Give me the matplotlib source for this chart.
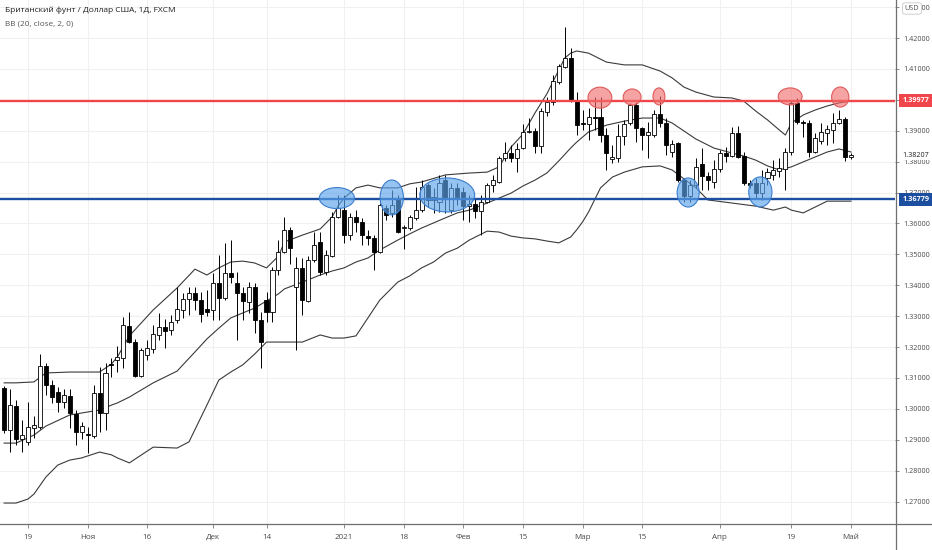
import pandas as pd
import matplotlib
matplotlib.use('Agg')
import matplotlib.pyplot as plt
from matplotlib.patches import Ellipse
from matplotlib.lines import Line2D

plt.rcParams['font.family'] = ['Open Sans', 'DejaVu Sans']

# daily bars, FXCM had no bar on Christmas and New Year
dates = pd.bdate_range('2020-10-13', '2021-05-03')
dates = dates[~dates.isin(pd.to_datetime(['2020-12-25', '2021-01-01']))]

opens = [
    1.3067, 1.2931, 1.3009, 1.2902, 1.2892, 1.2938, 1.2941, 1.3139, 1.3077, 1.3054,
    1.3022, 1.3042, 1.2983, 1.2925, 1.2920, 1.2912, 1.3051, 1.2986, 1.3145, 1.3158,
    1.3165, 1.3268, 1.3216, 1.3106, 1.3174, 1.3194, 1.3239, 1.3265, 1.3255, 1.3287,
    1.3320, 1.3355, 1.3375, 1.3352, 1.3323, 1.3320, 1.3407, 1.3359, 1.3440, 1.3407,
    1.3375, 1.3346, 1.3394, 1.3287, 1.3352, 1.3313, 1.3449, 1.3508, 1.3579, 1.3394,
    1.3456, 1.3349, 1.3482, 1.3540, 1.3443, 1.3495, 1.3621, 1.3644, 1.3563, 1.3621,
    1.3605, 1.3560, 1.3553, 1.3508, 1.3650, 1.3634, 1.3682, 1.3585, 1.3585, 1.3618,
    1.3643, 1.3724, 1.3676, 1.3670, 1.3740, 1.3643, 1.3715, 1.3702, 1.3657, 1.3663,
    1.3640, 1.3669, 1.3724, 1.3734, 1.3812, 1.3828, 1.3812, 1.3844, 1.3896, 1.3899,
    1.3851, 1.3961, 1.3993, 1.4058, 1.4106, 1.4135, 1.3999, 1.3925, 1.3922, 1.3944,
    1.3944, 1.3886, 1.3808, 1.3812, 1.3883, 1.3925, 1.3983, 1.3909, 1.3886, 1.3886,
    1.3954, 1.3925, 1.3831, 1.3860, 1.3740, 1.3690, 1.3725, 1.3792, 1.3753, 1.3734,
    1.3776, 1.3828, 1.3818, 1.3893, 1.3818, 1.3731, 1.3731, 1.3698, 1.3747, 1.3757,
    1.3770, 1.3776, 1.3831, 1.3990, 1.3928, 1.3925, 1.3831, 1.3866, 1.3893, 1.3903,
    1.3925, 1.3938, 1.3815]
highs = [
    1.3074, 1.3064, 1.3029, 1.2964, 1.3022, 1.2977, 1.3177, 1.3148, 1.3093, 1.3071,
    1.3064, 1.3064, 1.2996, 1.2957, 1.2941, 1.3077, 1.3135, 1.3148, 1.3164, 1.3203,
    1.3297, 1.3313, 1.3226, 1.3197, 1.3223, 1.3271, 1.3310, 1.3291, 1.3304, 1.3394,
    1.3375, 1.3394, 1.3394, 1.3378, 1.3385, 1.3440, 1.3498, 1.3537, 1.3546, 1.3443,
    1.3394, 1.3410, 1.3407, 1.3313, 1.3378, 1.3459, 1.3546, 1.3621, 1.3588, 1.3491,
    1.3488, 1.3495, 1.3572, 1.3572, 1.3514, 1.3637, 1.3692, 1.3692, 1.3634, 1.3643,
    1.3618, 1.3579, 1.3563, 1.3666, 1.3660, 1.3708, 1.3692, 1.3595, 1.3627, 1.3718,
    1.3740, 1.3730, 1.3715, 1.3757, 1.3757, 1.3731, 1.3731, 1.3718, 1.3692, 1.3682,
    1.3692, 1.3731, 1.3757, 1.3818, 1.3863, 1.3854, 1.3860, 1.3922, 1.3941, 1.3909,
    1.3973, 1.4009, 1.4080, 1.4116, 1.4236, 1.4168, 1.4025, 1.3967, 1.3973, 1.4009,
    1.4009, 1.3909, 1.3854, 1.3922, 1.3935, 1.3990, 1.3993, 1.3912, 1.3928, 1.3967,
    1.4012, 1.3941, 1.3870, 1.3863, 1.3746, 1.3740, 1.3812, 1.3844, 1.3766, 1.3805,
    1.3838, 1.3847, 1.3912, 1.3915, 1.3831, 1.3740, 1.3747, 1.3773, 1.3779, 1.3805,
    1.3812, 1.3844, 1.3999, 1.4006, 1.3935, 1.3935, 1.3893, 1.3925, 1.3918, 1.3957,
    1.3967, 1.3944, 1.3828]
lows = [
    1.2922, 1.2860, 1.2883, 1.2860, 1.2883, 1.2906, 1.2935, 1.3045, 1.3019, 1.2990,
    1.3003, 1.2938, 1.2883, 1.2902, 1.2857, 1.2906, 1.2925, 1.2931, 1.3103, 1.3119,
    1.3132, 1.3213, 1.3103, 1.3103, 1.3158, 1.3181, 1.3223, 1.3197, 1.3239, 1.3278,
    1.3294, 1.3304, 1.3320, 1.3281, 1.3300, 1.3287, 1.3287, 1.3352, 1.3407, 1.3223,
    1.3287, 1.3310, 1.3245, 1.3132, 1.3281, 1.3281, 1.3433, 1.3505, 1.3469, 1.3190,
    1.3304, 1.3346, 1.3475, 1.3433, 1.3433, 1.3491, 1.3618, 1.3537, 1.3546, 1.3572,
    1.3530, 1.3530, 1.3449, 1.3505, 1.3611, 1.3621, 1.3569, 1.3517, 1.3579, 1.3611,
    1.3637, 1.3653, 1.3634, 1.3637, 1.3634, 1.3634, 1.3660, 1.3611, 1.3605, 1.3618,
    1.3563, 1.3666, 1.3702, 1.3731, 1.3802, 1.3799, 1.3766, 1.3841, 1.3893, 1.3828,
    1.3828, 1.3948, 1.3983, 1.4051, 1.4103, 1.3993, 1.3886, 1.3902, 1.3870, 1.3902,
    1.3863, 1.3773, 1.3796, 1.3799, 1.3854, 1.3918, 1.3863, 1.3838, 1.3812, 1.3880,
    1.3912, 1.3822, 1.3815, 1.3734, 1.3670, 1.3668, 1.3715, 1.3708, 1.3708, 1.3715,
    1.3766, 1.3799, 1.3815, 1.3812, 1.3724, 1.3715, 1.3682, 1.3676, 1.3724, 1.3741,
    1.3750, 1.3708, 1.3822, 1.3922, 1.3880, 1.3815, 1.3828, 1.3857, 1.3854, 1.3860,
    1.3922, 1.3802, 1.3808]
closes = [
    1.2931, 1.3012, 1.2902, 1.2915, 1.2941, 1.2948, 1.3139, 1.3077, 1.3038, 1.3022,
    1.3045, 1.2986, 1.2925, 1.2944, 1.2916, 1.3051, 1.2986, 1.3116, 1.3141, 1.3168,
    1.3271, 1.3216, 1.3106, 1.3190, 1.3197, 1.3242, 1.3265, 1.3252, 1.3281, 1.3323,
    1.3355, 1.3375, 1.3352, 1.3307, 1.3313, 1.3407, 1.3359, 1.3440, 1.3427, 1.3375,
    1.3349, 1.3394, 1.3287, 1.3216, 1.3313, 1.3449, 1.3508, 1.3579, 1.3520, 1.3456,
    1.3352, 1.3482, 1.3530, 1.3443, 1.3498, 1.3621, 1.3650, 1.3563, 1.3621, 1.3605,
    1.3563, 1.3553, 1.3508, 1.3660, 1.3627, 1.3660, 1.3572, 1.3588, 1.3621, 1.3643,
    1.3718, 1.3676, 1.3685, 1.3731, 1.3682, 1.3715, 1.3686, 1.3657, 1.3663, 1.3640,
    1.3669, 1.3724, 1.3740, 1.3812, 1.3828, 1.3812, 1.3841, 1.3896, 1.3899, 1.3851,
    1.3964, 1.3993, 1.4061, 1.4109, 1.4135, 1.3999, 1.3918, 1.3922, 1.3944, 1.3941,
    1.3886, 1.3828, 1.3815, 1.3883, 1.3922, 1.3983, 1.3909, 1.3886, 1.3896, 1.3954,
    1.3925, 1.3854, 1.3857, 1.3740, 1.3690, 1.3725, 1.3783, 1.3753, 1.3740, 1.3776,
    1.3828, 1.3818, 1.3893, 1.3815, 1.3731, 1.3724, 1.3698, 1.3731, 1.3766, 1.3773,
    1.3780, 1.3831, 1.3990, 1.3928, 1.3925, 1.3831, 1.3876, 1.3896, 1.3906, 1.3925,
    1.3938, 1.3815, 1.3821]

# Bollinger band values at these bar numbers
upper_at = [0, 2, 5, 7, 11, 16, 18, 19, 21, 25, 29, 32, 34, 36, 38, 40, 42, 44, 46, 47,
            50, 53, 55, 56, 57, 59, 61, 63, 66, 68, 70, 74, 76, 78, 81, 83, 85, 87, 89, 91,
            93, 94, 95, 96, 98, 101, 104, 107, 110, 112, 114, 116, 119, 122, 124, 126, 128,
            130, 131, 132, 134, 136, 138, 140, 142]
upper = [1.3084, 1.3084, 1.3087, 1.3116, 1.3119, 1.3119, 1.3145, 1.3168, 1.3236, 1.3320,
         1.3391, 1.3452, 1.3433, 1.3456, 1.3475, 1.3478, 1.3472, 1.3456, 1.3494, 1.3540,
         1.3562, 1.3582, 1.3621, 1.3656, 1.3682, 1.3715, 1.3724, 1.3715, 1.3715, 1.3728,
         1.3734, 1.3757, 1.3760, 1.3763, 1.3766, 1.3783, 1.3847, 1.3889, 1.3957, 1.4019,
         1.4096, 1.4135, 1.4151, 1.4158, 1.4151, 1.4122, 1.4113, 1.4113, 1.4093, 1.4071,
         1.4041, 1.4025, 1.4009, 1.4006, 1.3996, 1.3964, 1.3935, 1.3902, 1.3886, 1.3925,
         1.3951, 1.3967, 1.3980, 1.3990, 1.3996]
middle_at = [0, 2, 5, 7, 11, 16, 18, 19, 21, 25, 29, 32, 34, 36, 38, 40, 42, 44, 46, 47,
             50, 53, 55, 57, 59, 61, 63, 66, 68, 70, 74, 76, 78, 81, 83, 85, 87, 89, 91, 93,
             95, 96, 98, 101, 104, 107, 110, 112, 114, 116, 119, 122, 124, 126, 128, 130,
             132, 134, 136, 138, 140, 142]
middle = [1.2889, 1.2889, 1.2915, 1.2944, 1.2980, 1.2996, 1.3012, 1.3019, 1.3038, 1.3084,
          1.3122, 1.3184, 1.3226, 1.3261, 1.3294, 1.3310, 1.3326, 1.3349, 1.3372, 1.3388,
          1.3410, 1.3433, 1.3446, 1.3456, 1.3475, 1.3488, 1.3514, 1.3546, 1.3566, 1.3585,
          1.3618, 1.3634, 1.3643, 1.3666, 1.3682, 1.3698, 1.3721, 1.3740, 1.3763, 1.3802,
          1.3844, 1.3863, 1.3896, 1.3918, 1.3931, 1.3941, 1.3941, 1.3925, 1.3899, 1.3873,
          1.3844, 1.3828, 1.3818, 1.3805, 1.3786, 1.3773, 1.3783, 1.3799, 1.3815, 1.3831,
          1.3841, 1.3831]
lower_at = [0, 2, 4, 5, 7, 9, 11, 13, 16, 18, 19, 21, 25, 29, 31, 34, 36, 38, 40, 42,
            44, 47, 50, 53, 55, 57, 59, 61, 63, 66, 68, 70, 72, 74, 76, 78, 81, 83, 85, 87,
            89, 91, 93, 95, 96, 97, 98, 100, 102, 104, 107, 110, 112, 114, 116, 118, 122,
            126, 129, 131, 132, 134, 136, 138, 140, 142]
lower = [1.2695, 1.2695, 1.2708, 1.2724, 1.2779, 1.2818, 1.2834, 1.2841, 1.2860, 1.2851,
         1.2841, 1.2825, 1.2876, 1.2873, 1.2893, 1.3012, 1.3093, 1.3119, 1.3142, 1.3177,
         1.3216, 1.3216, 1.3216, 1.3239, 1.3229, 1.3229, 1.3236, 1.3294, 1.3352, 1.3410,
         1.3430, 1.3456, 1.3475, 1.3504, 1.3520, 1.3546, 1.3575, 1.3572, 1.3559, 1.3553,
         1.3550, 1.3543, 1.3537, 1.3556, 1.3579, 1.3605, 1.3637, 1.3715, 1.3750, 1.3766,
         1.3783, 1.3786, 1.3773, 1.3744, 1.3715, 1.3676, 1.3666, 1.3656, 1.3643, 1.3653,
         1.3643, 1.3634, 1.3653, 1.3672, 1.3672, 1.3672]

tick_dates = ['2020-10-19', '2020-11-02', '2020-11-16', '2020-12-01', '2020-12-14',
              '2021-01-04', '2021-01-18', '2021-02-01', '2021-02-15', '2021-03-01',
              '2021-03-15', '2021-04-01', '2021-04-19', '2021-05-03']
tick_labels = ['19', 'Ноя', '16', 'Дек', '14', '2021', '18', 'Фев', '15', 'Мар',
               '15', 'Апр', '19', 'Май']
price_ticks = [1.27 + 0.01 * i for i in range(17)]

resistance = 1.39977
support = 1.36779
last_price = 1.38207

# highlighted touches (bar number, price, width in bars, height in price)
blue_marks_at = [55.8, 65.0, 74.3, 114.7, 126.8]
blue_marks_price = [1.3682, 1.3684, 1.3692, 1.3700, 1.3702]
blue_marks_w = [5.9, 3.9, 9.2, 3.7, 3.9]
blue_marks_h = [0.0068, 0.0113, 0.0110, 0.0094, 0.0097]
red_marks_at = [99.9, 105.3, 109.8, 131.8, 140.2]
red_marks_price = [1.4007, 1.4009, 1.4011, 1.4011, 1.4009]
red_marks_w = [4.0, 3.0, 2.0, 4.0, 2.9]
red_marks_h = [0.0068, 0.0052, 0.0055, 0.0055, 0.0065]

RED = '#f0464b'
BLUE = '#1c4fa0'
LBL = 5.2

W, H = 932, 550
fig = plt.figure(figsize=(W / 100, H / 100), dpi=100)
ax = fig.add_axes([0, 26 / H, 895 / W, 524 / H])

x = list(range(len(dates)))
bottoms = [min(o, c) for o, c in zip(opens, closes)]
heights = [max(abs(c - o), 0.00012) for o, c in zip(opens, closes)]
faces = ['white' if c >= o else 'black' for o, c in zip(opens, closes)]

ax.vlines(x, lows, highs, color='black', lw=0.7, zorder=3)
ax.bar(x, heights, bottom=bottoms, width=0.68, color=faces, edgecolor='black',
       linewidth=0.6, zorder=4)

for at, vals in [(upper_at, upper), (middle_at, middle), (lower_at, lower)]:
    ax.plot(at, vals, color='#3a3a3a', lw=0.8, zorder=2)

ax.axhline(resistance, color=RED, lw=1.7, zorder=5)
ax.axhline(support, color=BLUE, lw=1.7, zorder=5)

for k, p, w, h in zip(blue_marks_at, blue_marks_price, blue_marks_w, blue_marks_h):
    ax.add_patch(Ellipse((k, p), w, h, facecolor=(0.36, 0.64, 0.92, 0.65),
                         edgecolor='#3b7dcc', lw=0.8, zorder=6))
for k, p, w, h in zip(red_marks_at, red_marks_price, red_marks_w, red_marks_h):
    ax.add_patch(Ellipse((k, p), w, h, facecolor=(0.95, 0.42, 0.42, 0.62),
                         edgecolor='#e05a5a', lw=0.8, zorder=6))

ax.set_xlim(-0.69, 149.38)
ax.set_ylim(1.26272, 1.43230)

ax.set_xticks([dates.get_loc(pd.Timestamp(d)) for d in tick_dates])
ax.set_xticklabels(tick_labels)
ax.tick_params(axis='x', length=3, width=0.6, color='#777777', pad=4,
               labelsize=5.8, labelcolor='#4a4a4a')
ax.yaxis.tick_right()
ax.set_yticks(price_ticks)
ax.set_yticklabels(['%.5f' % p for p in price_ticks])
ax.tick_params(axis='y', length=3, width=0.6, color='#777777', pad=3,
               labelsize=LBL, labelcolor='#4a4a4a')
ax.grid(True, color='#f0f0f0', lw=0.8)
ax.set_axisbelow(True)
for s in ax.spines.values():
    s.set_visible(False)

# chart frame: price scale border and time scale border
fig.add_artist(Line2D([895.5 / W, 895.5 / W], [0, 1], color='#6f6f6f', lw=0.9))
fig.add_artist(Line2D([0, 1], [26 / H, 26 / H], color='#6f6f6f', lw=0.9))

ytr = ax.get_yaxis_transform()
ax.text(1.008, resistance, '%.5f' % resistance, transform=ytr, clip_on=False,
        ha='left', va='center', fontsize=LBL, color='white', weight='bold', zorder=10,
        bbox=dict(boxstyle='square,pad=0.4', fc=RED, ec='none'))
ax.text(1.008, support, '%.5f' % support, transform=ytr, clip_on=False,
        ha='left', va='center', fontsize=LBL, color='white', weight='bold', zorder=10,
        bbox=dict(boxstyle='square,pad=0.4', fc=BLUE, ec='none'))
ax.text(1.008, last_price, '%.5f' % last_price, transform=ytr, clip_on=False,
        ha='left', va='center', fontsize=LBL, color='#222222', zorder=10,
        bbox=dict(boxstyle='square,pad=0.15', fc='white', ec='none'))

fig.text(912 / W, 1 - 8.5 / H, 'USD', ha='center', va='center', fontsize=5.2,
         color='#555555', bbox=dict(boxstyle='round,pad=0.3', fc='white',
                                    ec='#c8c8c8', lw=0.6))

fig.text(5 / W, 1 - 10 / H, 'Британский фунт / Доллар США, 1Д, FXCM', ha='left',
         va='center', fontsize=6.0, color='#1e1e1e')
fig.text(5 / W, 1 - 24 / H, 'BB (20, close, 2, 0)', ha='left', va='center',
         fontsize=5.9, color='#555555')

fig.savefig('out.png', dpi=100)
